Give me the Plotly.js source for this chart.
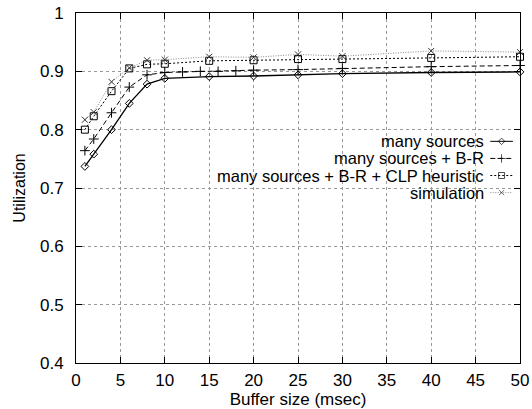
<!DOCTYPE html>
<html>
<head>
<meta charset="utf-8">
<script src="https://cdn.plot.ly/plotly-3.0.1.min.js"></script>
<style>html,body{margin:0;padding:0;background:#fff}#chart{width:532px;height:409px}</style>
</head>
<body>
<div id="chart"></div>
<script>
// ---- data ----
var bufferSize = [1, 2, 4, 6, 8, 10, 15, 20, 25, 30, 40, 50];
var bufferSizeBR = [1, 2, 4, 6, 8, 10, 12, 14, 16, 18, 20, 25, 30, 40, 50];
var manySources = [0.737, 0.758, 0.800, 0.845, 0.878, 0.888, 0.891, 0.892, 0.894, 0.896, 0.898, 0.899];
var manySourcesBR = [0.764, 0.784, 0.829, 0.873, 0.894, 0.898, 0.899, 0.900, 0.900, 0.901, 0.902, 0.903, 0.905, 0.908, 0.910];
var manySourcesBRCLP = [0.800, 0.823, 0.866, 0.905, 0.912, 0.913, 0.918, 0.919, 0.921, 0.921, 0.923, 0.925];
var simulation = [0.817, 0.830, 0.882, 0.906, 0.919, 0.920, 0.925, 0.924, 0.929, 0.926, 0.935, 0.933];
var seriesNames = ["many sources", "many sources + B-R", "many sources + B-R + CLP heuristic", "simulation"];
var xTicks = [0, 5, 10, 15, 20, 25, 30, 35, 40, 45, 50];
var yTicks = [0.4, 0.5, 0.6, 0.7, 0.8, 0.9, 1];

// ---- styles ----
var styles = [
  {color: "#000", dash: "solid", width: 1.3, symbol: "diamond-open", size: 6},
  {color: "#000", dash: "5px,3px", width: 1, symbol: "cross-thin-open", size: 7},
  {color: "#000", dash: "2px,2px", width: 1, symbol: "square-open", size: 7},
  {color: "#8a8a8a", dash: "1px,1.5px", width: 1, symbol: "x-thin-open", size: 6}
];
var xs = [bufferSize, bufferSizeBR, bufferSize, bufferSize];
var ys = [manySources, manySourcesBR, manySourcesBRCLP, simulation];

var traces = [];
for (var i = 0; i < 4; i++) {
  var s = styles[i];
  traces.push({
    x: xs[i], y: ys[i], name: seriesNames[i], type: "scatter", mode: "lines+markers",
    showlegend: false, cliponaxis: false,
    line: {color: s.color, dash: s.dash, width: s.width},
    marker: {symbol: s.symbol, size: s.size, color: i === 3 ? "#333" : s.color,
             line: {color: i === 3 ? "#333" : s.color, width: 1}}
  });
}

// legend (gnuplot style: text right, sample to the right)
var legTextX = 46.1, legS0 = 46.65, legS1 = 49.2;
var legY0 = 0.780, legStep = 0.0293;
var annotations = [];
for (var j = 0; j < 4; j++) {
  var yy = legY0 - j * legStep;
  var s2 = styles[j];
  annotations.push({x: legTextX, y: yy, xref: "x", yref: "y", text: seriesNames[j], showarrow: false,
    xanchor: "right", yanchor: "middle", borderpad: 0,
    font: {family: "Liberation Sans, Arial, sans-serif", size: 16.5, color: "#000"}});
  traces.push({
    x: [legS0, (legS0 + legS1) / 2, legS1], y: [yy, yy, yy], type: "scatter", mode: "lines+markers",
    showlegend: false, hoverinfo: "skip",
    line: {color: s2.color, dash: s2.dash, width: 1},
    marker: {symbol: s2.symbol, size: [0, s2.size - 1, 0], color: j === 3 ? "#333" : s2.color,
             line: {color: j === 3 ? "#333" : s2.color, width: 1}}
  });
}

var font = {family: "Liberation Sans, Arial, sans-serif", size: 17, color: "#000"};
var layout = {
  width: 532, height: 409,
  margin: {l: 76, r: 12, t: 13, b: 46, pad: 0},
  paper_bgcolor: "#fff", plot_bgcolor: "#fff",
  font: font,
  showlegend: false,
  xaxis: {
    range: [0, 50], tickvals: xTicks, ticktext: xTicks.map(String),
    showline: true, linecolor: "#000", linewidth: 1, mirror: "ticks",
    ticks: "inside", ticklen: 6, tickcolor: "#000",
    showgrid: true, gridcolor: "#999", griddash: "dot", gridwidth: 1,
    zeroline: false, tickfont: font, ticklabelstandoff: 2,
    title: {text: "Buffer size (msec)", font: font, standoff: 0}
  },
  yaxis: {
    range: [0.4, 1], tickvals: yTicks, ticktext: yTicks.map(String),
    showline: true, linecolor: "#000", linewidth: 1, mirror: "ticks",
    ticks: "inside", ticklen: 6, tickcolor: "#000",
    showgrid: true, gridcolor: "#999", griddash: "dot", gridwidth: 1,
    zeroline: false, tickfont: font, ticklabelstandoff: 8,
    title: {text: "Utilization", font: {family: font.family, size: 16, color: "#000"}, standoff: 10}
  },
  annotations: annotations
};
Plotly.newPlot("chart", traces, layout, {displayModeBar: false, staticPlot: true});
</script>
</body>
</html>
